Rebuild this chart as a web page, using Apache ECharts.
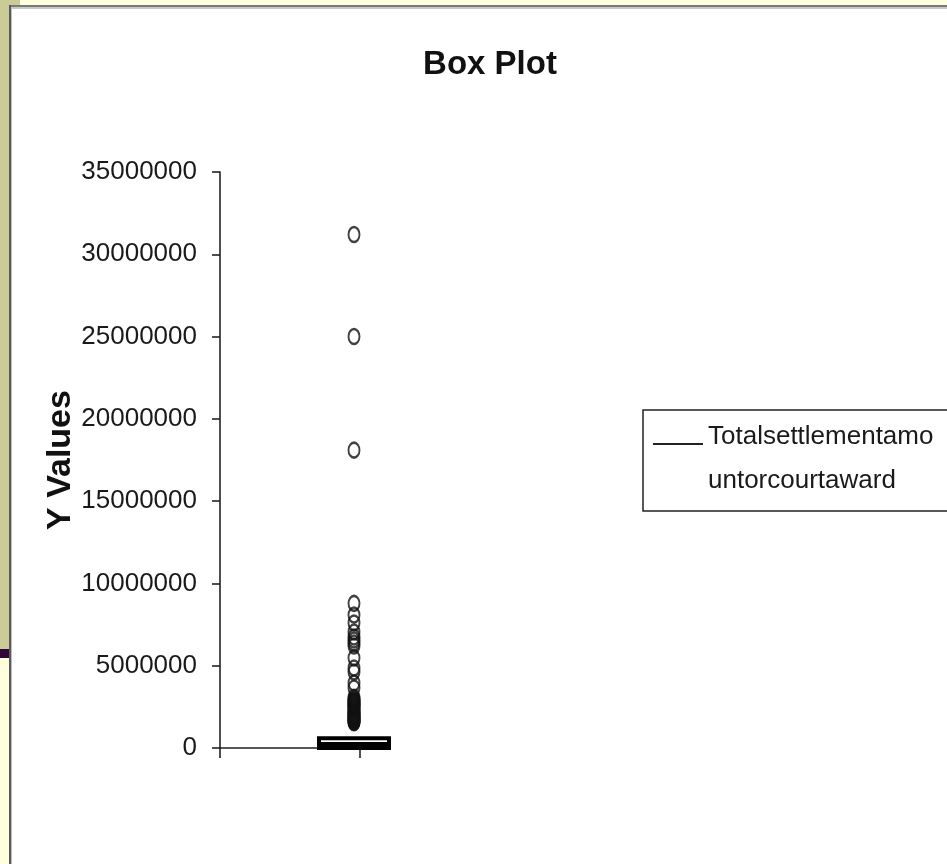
<!DOCTYPE html>
<html>
<head>
<meta charset="utf-8">
<script src="https://cdn.jsdelivr.net/npm/echarts@6/dist/echarts.min.js"></script>
<style>
  html, body { margin: 0; padding: 0; background: #ffffff; }
  #chart { width: 947px; height: 864px; }
</style>
</head>
<body>
<div id="chart"></div>
<script>
// Series and labels
const seriesName = 'Totalsettlementamountorcourtaward';
const legendLines = ['Totalsettlementamo', 'untorcourtaward'];
const categories = ['Totalsettlementamountorcourtaward'];
// [lower whisker, Q1, median, Q3, upper whisker]
const boxStats = [0, 0, 250000, 600000, 600000];
// Points beyond the upper fence
const outlierValues = [
  31200000, 25000000, 18100000,
  8790000, 8080000, 7600000, 7050000, 6740000, 6560000, 6380000, 6200000,
  5470000, 4860000, 4620000, 3950000, 3650000, 3080000, 2980000,
  2900000, 2840000, 2780000, 2730000, 2660000, 2610000, 2550000, 2500000,
  2440000, 2390000, 2330000, 2270000, 2210000, 2160000, 2100000, 2050000,
  1990000, 1940000, 1890000, 1850000, 1800000, 1760000, 1720000, 1680000,
  1640000, 1600000, 1570000, 1530000
];
const yTickValues = [0, 5000000, 10000000, 15000000, 20000000, 25000000, 30000000, 35000000];

const SANS = '"Liberation Sans", Arial, sans-serif';
const INK = '#1a1a1a';

const yMin = yTickValues[0];
const yMax = yTickValues[yTickValues.length - 1];
const yStep = yTickValues[1] - yTickValues[0];

const chart = echarts.init(document.getElementById('chart'), null, { renderer: 'canvas' });

const option = {
  backgroundColor: '#ffffff',
  animation: false,
  title: {
    text: 'Box Plot',
    left: 485,
    top: 43,
    textAlign: 'center',
    textStyle: { fontFamily: SANS, fontSize: 33, fontWeight: 'bold', color: '#111' }
  },
  legend: {
    left: 643,
    top: 410,
    orient: 'vertical',
    selectedMode: false,
    data: [{
      name: seriesName,
      icon: 'path://M0,0H50V2H0Z M0,31H0.01V32H0Z',
      itemStyle: { color: '#222', borderWidth: 0 }
    }],
    itemWidth: 50,
    itemHeight: 32,
    padding: [5, 40, 8, 10],
    borderColor: '#222',
    borderWidth: 1.5,
    formatter: () => legendLines.join('\n'),
    textStyle: { fontFamily: SANS, fontSize: 26, lineHeight: 44, color: INK }
  },
  grid: [
    { left: 220, top: 172, width: 140, height: 576, containLabel: false, outerBoundsMode: 'none' },
    { left: 319, top: 172, width: 70, height: 576, containLabel: false, outerBoundsMode: 'none' }
  ],
  xAxis: [
    {
      type: 'value', gridIndex: 0, min: 0, max: 1, interval: 1,
      axisLine: { show: true, onZero: false, lineStyle: { color: '#222', width: 1.6 } },
      axisTick: { show: true, length: 10, lineStyle: { color: '#222', width: 1.6 } },
      axisLabel: { show: false },
      splitLine: { show: false }
    },
    {
      type: 'category', gridIndex: 1, data: categories, boundaryGap: true,
      show: false
    }
  ],
  yAxis: [
    {
      type: 'value', gridIndex: 0, min: yMin, max: yMax, interval: yStep,
      name: 'Y Values',
      nameLocation: 'middle',
      nameRotate: 90,
      nameGap: 102,
      nameTextStyle: { fontFamily: SANS, fontSize: 34, fontWeight: 'bold', color: '#111' },
      axisLine: { show: true, lineStyle: { color: '#222', width: 1.6 } },
      axisTick: { show: true, length: 8, lineStyle: { color: '#222', width: 1.6 } },
      axisLabel: {
        margin: 23, fontFamily: SANS, fontSize: 26, color: INK,
        formatter: v => String(v)
      },
      splitLine: { show: false }
    },
    {
      type: 'value', gridIndex: 1, min: yMin, max: yMax, interval: yStep,
      show: false, splitLine: { show: false }
    }
  ],
  series: [
    {
      name: seriesName,
      type: 'boxplot',
      xAxisIndex: 1, yAxisIndex: 1,
      boxWidth: [70, 70],
      itemStyle: { color: '#ffffff', borderColor: '#000', borderWidth: 4 },
      data: [boxStats]
    },
    {
      name: seriesName,
      type: 'scatter',
      xAxisIndex: 1, yAxisIndex: 1,
      symbol: 'circle',
      symbolSize: [11, 15],
      itemStyle: { color: 'rgba(0,0,0,0)', borderColor: '#111', borderWidth: 2.2 },
      data: outlierValues.map(v => [0, v])
    }
  ],
  graphic: [
    // slide frame around the chart area
    { type: 'rect', shape: { x: 0, y: 0, width: 10, height: 649 }, style: { fill: '#cbcb98' }, silent: true },
    { type: 'rect', shape: { x: 0, y: 0, width: 20, height: 5 }, style: { fill: '#cbcb98' }, silent: true },
    { type: 'rect', shape: { x: 20, y: 0, width: 927, height: 5 }, style: { fill: '#ffffde' }, silent: true },
    { type: 'rect', shape: { x: 0, y: 649, width: 10, height: 9 }, style: { fill: '#33063a' }, silent: true },
    { type: 'rect', shape: { x: 0, y: 658, width: 10, height: 206 }, style: { fill: '#ffffde' }, silent: true },
    { type: 'rect', shape: { x: 9, y: 5, width: 938, height: 2 }, style: { fill: '#7a7a7a' }, silent: true },
    { type: 'rect', shape: { x: 9, y: 7, width: 938, height: 2 }, style: { fill: '#c8c8c8' }, silent: true },
    { type: 'rect', shape: { x: 9, y: 5, width: 2, height: 859 }, style: { fill: '#5a5a5a' }, silent: true },
    { type: 'rect', shape: { x: 11, y: 9, width: 1, height: 855 }, style: { fill: '#bdbdbd' }, silent: true }
  ]
};

chart.setOption(option);
</script>
</body>
</html>
